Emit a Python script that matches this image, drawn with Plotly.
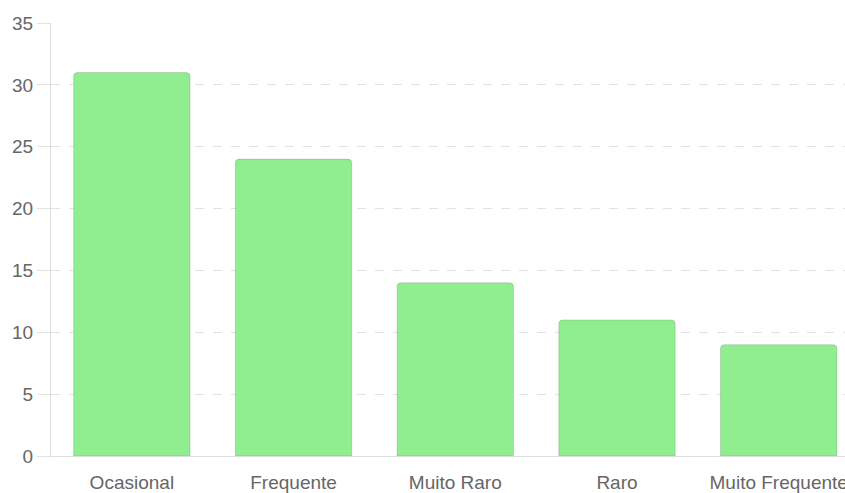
import plotly.graph_objects as go

categories = ["Ocasional", "Frequente", "Muito Raro", "Raro", "Muito Frequente"]
counts = [31, 24, 14, 11, 9]
y_ticks = [0, 5, 10, 15, 20, 25, 30, 35]

# The category band is a little wider than the visible plot, so the last
# slot runs past the right edge of the page.
x_range = [-0.5, 4.41]

fig = go.Figure(
    go.Bar(
        x=list(range(len(categories))),
        y=counts,
        width=0.72,
        marker=dict(
            color="#90EE90",
            line=dict(color="rgba(0,0,0,0.13)", width=1),
            cornerradius=4,
        ),
        customdata=categories,
        hovertemplate="%{customdata}: %{y}<extra></extra>",
    )
)

font_family = "'Liberation Sans', Arial, Helvetica, sans-serif"
label_font = dict(family=font_family, size=19, color="#666")

fig.update_layout(
    width=845,
    height=493,
    margin=dict(l=51, r=0, t=23, b=37, autoexpand=False),
    paper_bgcolor="white",
    plot_bgcolor="white",
    showlegend=False,
    font=label_font,
)

fig.update_yaxes(
    range=[0, 35],
    tickvals=y_ticks,
    showgrid=True,
    gridcolor="#e2e2e2",
    griddash="dash",
    gridwidth=1,
    showline=True,
    linecolor="#dddddd",
    linewidth=1,
    ticks="outside",
    ticklen=13,
    tickcolor="#e2e2e2",
    zeroline=False,
    automargin=False,
    tickfont=label_font,
)

fig.update_xaxes(
    range=x_range,
    tickvals=list(range(len(categories))),
    ticktext=categories,
    showgrid=False,
    showline=True,
    linecolor="#dddddd",
    linewidth=1,
    ticks="outside",
    ticklen=9,
    tickcolor="rgba(0,0,0,0)",
    automargin=False,
    ticklabeloverflow="allow",
    tickfont=label_font,
)

fig.write_html("out.html")
